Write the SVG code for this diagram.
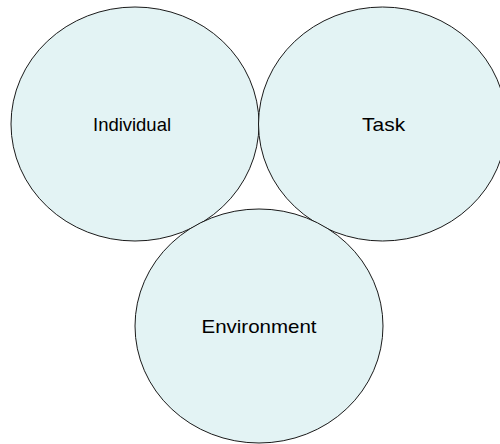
<svg xmlns="http://www.w3.org/2000/svg" width="500" height="444" viewBox="0 0 500 444">
<style>
.c{fill:#e3f3f4;stroke:#1a1a1a;stroke-width:1}
.t{font-family:"Liberation Sans",Arial,sans-serif;font-size:18.5px;fill:#000;text-anchor:middle}
</style>
<rect width="500" height="444" fill="#fff"/>
<g id="connectors"></g>
<g id="individual">
<ellipse class="c" cx="135" cy="124" rx="124" ry="117"/>
<text class="t" x="132" y="131" textLength="78" lengthAdjust="spacingAndGlyphs">Individual</text>
</g>
<g id="task">
<ellipse class="c" cx="382.5" cy="124" rx="124" ry="117"/>
<text class="t" x="383.6" y="131" textLength="43" lengthAdjust="spacingAndGlyphs">Task</text>
</g>
<g id="environment">
<ellipse class="c" cx="259" cy="326" rx="124" ry="117"/>
<text class="t" x="259" y="333" textLength="115" lengthAdjust="spacingAndGlyphs">Environment</text>
</g>
</svg>
